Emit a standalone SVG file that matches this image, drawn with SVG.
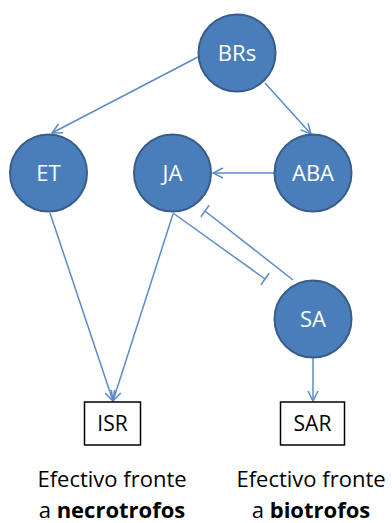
<svg xmlns="http://www.w3.org/2000/svg" width="392" height="523" viewBox="0 0 392 523">
<style>
.node circle{fill:#4a7ebb;stroke:#385d8a;stroke-width:2}
.node text{fill:#ffffff;font-family:"Open Sans","Liberation Sans",sans-serif;font-size:22px;text-anchor:middle}
.box rect{fill:#ffffff;stroke:#000000;stroke-width:1.5}
.box text{fill:#000000;font-family:"Open Sans","Liberation Sans",sans-serif;font-size:21px;text-anchor:middle}
.edge{stroke:#5b8bc9;stroke-width:1.5;fill:none}
.cap{fill:#000000;font-family:"Open Sans","Liberation Sans",sans-serif;font-size:22px;text-anchor:middle}
</style>
<defs>
<marker id="arr" viewBox="0 0 12 12" refX="11" refY="6" markerWidth="12" markerHeight="12" markerUnits="userSpaceOnUse" orient="auto">
<path d="M1,1 L11,6 L1,11" fill="none" stroke="#5b8bc9" stroke-width="1.5"/>
</marker>
</defs>
<rect width="392" height="523" fill="#ffffff"/>
<g id="connectors">
<line class="edge" x1="198" y1="57" x2="52" y2="133" marker-end="url(#arr)"/>
<line class="edge" x1="265" y1="83" x2="311" y2="134" marker-end="url(#arr)"/>
<line class="edge" x1="274" y1="173" x2="213" y2="173" marker-end="url(#arr)"/>
<line class="edge" x1="50" y1="213" x2="113" y2="401" marker-end="url(#arr)"/>
<line class="edge" x1="173" y1="214" x2="113" y2="401" marker-end="url(#arr)"/>
<line class="edge" x1="313" y1="358" x2="313" y2="401" marker-end="url(#arr)"/>
<line class="edge" x1="173" y1="213" x2="265" y2="279"/>
<line class="edge" x1="269.1" y1="273.3" x2="260.9" y2="284.7"/>
<line class="edge" x1="293" y1="280" x2="205" y2="211"/>
<line class="edge" x1="209.1" y1="205.3" x2="200.9" y2="216.7"/>
</g>
<g id="BRs" class="node"><circle cx="237" cy="53" r="38.5"/><text x="237" y="61">BRs</text></g>
<g id="ET" class="node"><circle cx="48.5" cy="173" r="38.5"/><text x="48.5" y="181">ET</text></g>
<g id="JA" class="node"><circle cx="172.5" cy="173" r="38.5"/><text x="172.5" y="181">JA</text></g>
<g id="ABA" class="node"><circle cx="313" cy="173" r="38.5"/><text x="313" y="181">ABA</text></g>
<g id="SA" class="node"><circle cx="313" cy="319" r="38.5"/><text x="313" y="327">SA</text></g>
<g id="ISR" class="box"><rect x="84.5" y="402" width="56" height="43"/><text x="112.5" y="431">ISR</text></g>
<g id="SAR" class="box"><rect x="280.5" y="402" width="64" height="43"/><text x="312.5" y="431">SAR</text></g>
<g id="caption-left"><text class="cap" x="112" y="487">Efectivo fronte</text><text class="cap" x="112" y="518">a <tspan font-weight="bold">necrotrofos</tspan></text></g>
<g id="caption-right"><text class="cap" x="311" y="487">Efectivo fronte</text><text class="cap" x="311" y="518">a <tspan font-weight="bold">biotrofos</tspan></text></g>
</svg>
